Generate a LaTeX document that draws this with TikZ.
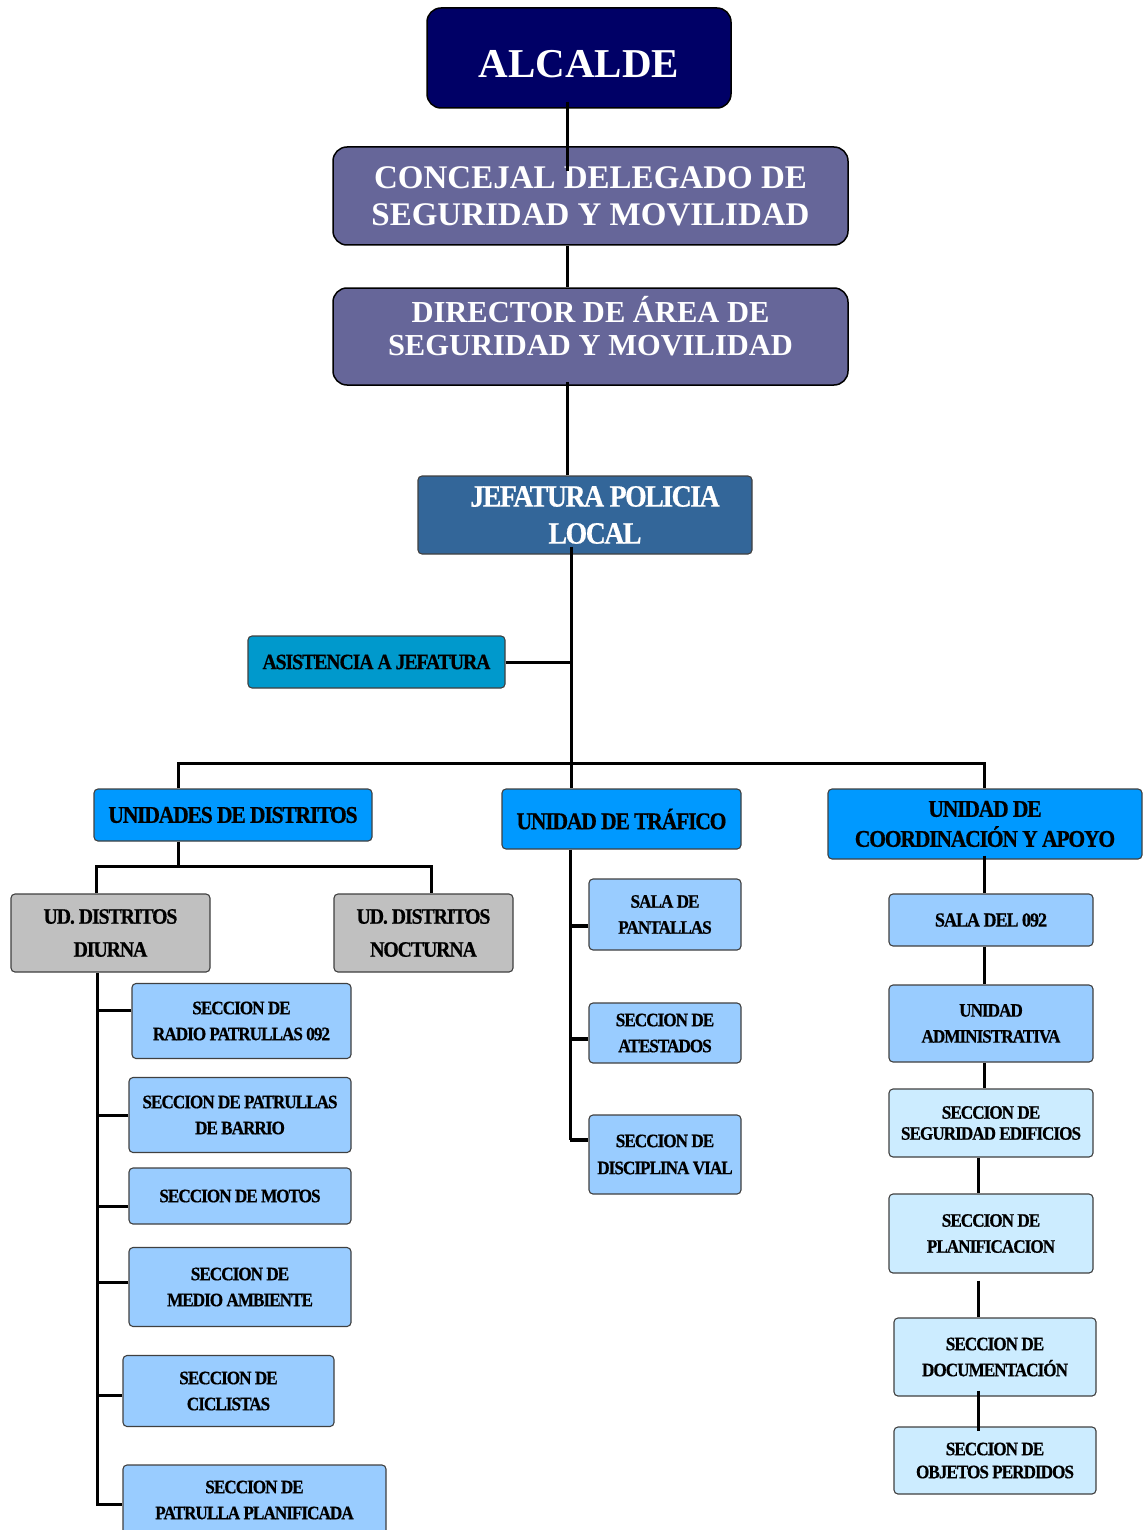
\documentclass[tikz,border=0pt]{standalone}
\usepackage{fontspec}
\setmainfont{Liberation Serif}
\newfontfamily\condfont[FakeStretch=0.9,LetterSpace=-5,FakeBold=0.6]{Liberation Serif}
\usetikzlibrary{shapes.misc}
\definecolor{cnavy}{HTML}{000066}
\definecolor{cpurple}{HTML}{666699}
\definecolor{cjef}{HTML}{336699}
\definecolor{casist}{HTML}{0099CC}
\definecolor{cunit}{HTML}{0099FF}
\definecolor{cgray}{HTML}{C0C0C0}
\definecolor{clight}{HTML}{99CCFF}
\definecolor{cpale}{HTML}{CCECFF}
\begin{document}
\begin{tikzpicture}[x=1pt,y=-1pt,
  topbox/.style={rectangle, rounded corners=14pt, draw=black, line width=1.5pt,
    text=white, align=center, inner sep=0pt},
  lowbox/.style={rectangle, rounded corners=4pt, draw=black!75, line width=1.1pt,
    text=black, align=center, inner sep=0pt},
  smallbox/.style={lowbox, fill=clight, font=\condfont\bfseries\fontsize{19}{26}\selectfont},
  palebox/.style={lowbox, fill=cpale, font=\condfont\bfseries\fontsize{19}{26}\selectfont},
  unitbox/.style={lowbox, fill=cunit, font=\condfont\bfseries\fontsize{24}{30}\selectfont},
  graybox/.style={lowbox, fill=cgray, font=\condfont\bfseries\fontsize{22}{33}\selectfont},
  conn/.style={draw=black, line width=3pt},
  thick conn/.style={draw=black, line width=4.5pt}
]
\useasboundingbox (0,0) rectangle (1144,1530);

% top chain
\node[topbox, fill=cnavy, minimum width=304pt, minimum height=100pt, text height=39pt,
  font=\bfseries\fontsize{41}{45}\selectfont] (alcalde) at (579,58) {ALCALDE};
\node[topbox, fill=cpurple, minimum width=515pt, minimum height=98pt,
  font=\bfseries\fontsize{33}{37}\selectfont] (concejal) at (590.5,196)
  {CONCEJAL DELEGADO DE\\SEGURIDAD Y MOVILIDAD};
\node[topbox, fill=cpurple, minimum width=515pt, minimum height=97pt, text depth=22pt,
  font=\bfseries\fontsize{30.5}{33}\selectfont] (director) at (590.5,336.5)
  {DIRECTOR DE ÁREA DE\\SEGURIDAD Y MOVILIDAD};
\node[lowbox, fill=cjef, text=white, minimum width=334pt, minimum height=78pt,
  font=\condfont\bfseries\fontsize{31}{37}\selectfont] (jefatura) at (585,515)
  {\hspace*{20pt}JEFATURA POLICIA\\\hspace*{20pt}LOCAL};
\node[lowbox, fill=casist, minimum width=257pt, minimum height=52pt,
  font=\condfont\bfseries\fontsize{22}{26}\selectfont] (asist) at (376.5,662)
  {ASISTENCIA A JEFATURA};

% units
\node[unitbox, minimum width=278pt, minimum height=52pt] (udist) at (233,815) {UNIDADES DE DISTRITOS};
\node[unitbox, minimum width=239pt, minimum height=60pt] (trafico) at (621.5,819) {UNIDAD DE TRÁFICO};
\node[unitbox, minimum width=314pt, minimum height=70pt] (coord) at (985,824) {UNIDAD DE\\COORDINACIÓN Y APOYO};

% districts
\node[graybox, minimum width=199pt, minimum height=78pt] (diurna) at (110.5,933) {UD. DISTRITOS\\DIURNA};
\node[graybox, minimum width=179pt, minimum height=78pt] (nocturna) at (423.5,933) {UD. DISTRITOS\\NOCTURNA};

\node[smallbox, minimum width=219pt, minimum height=75pt] (radio) at (241.5,1021) {SECCION DE\\RADIO PATRULLAS 092};
\node[smallbox, minimum width=222pt, minimum height=75pt] (barrio) at (240,1115) {SECCION DE PATRULLAS\\DE BARRIO};
\node[smallbox, minimum width=222pt, minimum height=56pt] (motos) at (240,1196) {SECCION DE MOTOS};
\node[smallbox, minimum width=222pt, minimum height=79pt] (medio) at (240,1287) {SECCION DE\\MEDIO AMBIENTE};
\node[smallbox, minimum width=211pt, minimum height=71pt] (ciclistas) at (228.5,1391) {SECCION DE\\CICLISTAS};
\node[smallbox, minimum width=263pt, minimum height=70pt] (planif) at (254.5,1500) {SECCION DE\\PATRULLA PLANIFICADA};

% traffic
\node[smallbox, minimum width=152pt, minimum height=71pt] (pantallas) at (665,914.5) {SALA DE\\PANTALLAS};
\node[smallbox, minimum width=152pt, minimum height=60pt] (atestados) at (665,1033) {SECCION DE\\ATESTADOS};
\node[smallbox, minimum width=152pt, minimum height=79pt,
  font=\condfont\bfseries\fontsize{19}{27}\selectfont] (disciplina) at (665,1154.5) {SECCION DE\\DISCIPLINA VIAL};

% coordination
\node[smallbox, minimum width=204pt, minimum height=52pt,
  font=\condfont\bfseries\fontsize{20}{26}\selectfont] (sala092) at (991,920) {SALA DEL 092};
\node[smallbox, minimum width=204pt, minimum height=77pt] (uadmin) at (991,1023.5) {UNIDAD\\ADMINISTRATIVA};
\node[palebox, minimum width=204pt, minimum height=68pt,
  font=\condfont\bfseries\fontsize{19}{21}\selectfont] (edificios) at (991,1123) {SECCION DE\\SEGURIDAD EDIFICIOS};
\node[palebox, minimum width=204pt, minimum height=79pt] (planific) at (991,1233.5) {SECCION DE\\PLANIFICACION};
\node[palebox, minimum width=202pt, minimum height=78pt] (docum) at (995,1357) {SECCION DE\\DOCUMENTACIÓN};
\node[palebox, minimum width=202pt, minimum height=67pt,
  font=\condfont\bfseries\fontsize{19}{23}\selectfont] (objetos) at (995,1460.5) {SECCION DE\\OBJETOS PERDIDOS};

% connectors
\coordinate (bar) at (571,763);
\draw[conn] ([xshift=-12pt,yshift=7pt]alcalde.south) -- ([xshift=-23.5pt,yshift=-25pt]concejal.north);
\draw[conn] ([xshift=-23.5pt]concejal.south) -- ([xshift=-23.5pt]director.north);
\draw[conn] ([xshift=-23.5pt,yshift=4pt]director.south) -- ([xshift=-18pt]jefatura.north);
\draw[conn] ([xshift=-14pt,yshift=8pt]jefatura.south) -- (bar);
\draw[conn] (asist.east) -- (asist.east -| bar);
\draw[conn] ([xshift=-55pt]udist.north) |- (bar) -| ([xshift=-1pt]coord.north);
\draw[conn] (bar) -- (trafico.north -| bar);

% districts
\draw[conn] ([xshift=-55pt]udist.south) -- ++(0,26);
\draw[conn] ([xshift=-14.5pt]diurna.north) -- ++(0,-27) -| ([xshift=7.5pt]nocturna.north);
\coordinate (dtop) at ([xshift=-13.5pt]diurna.south);
\draw[conn] (dtop) -- ([yshift=-4pt]planif.west -| dtop) -- ([yshift=-4pt]planif.west);
\draw[conn] ([yshift=11pt]radio.west) -- ([yshift=11pt]radio.west -| dtop);
\draw[conn] (barrio.west) -- (barrio.west -| dtop);
\draw[conn] ([yshift=-10pt]motos.west) -- ([yshift=-10pt]motos.west -| dtop);
\draw[conn] ([yshift=5pt]medio.west) -- ([yshift=5pt]medio.west -| dtop);
\draw[conn] ([yshift=-4pt]ciclistas.west) -- ([yshift=-4pt]ciclistas.west -| dtop);

% traffic
\coordinate (ttop) at ([xshift=-51.5pt]trafico.south);
\draw[conn] (ttop) -- ([yshift=14.5pt]disciplina.west -| ttop);
\draw[thick conn] ([yshift=14.5pt]disciplina.west -| ttop) -- ([yshift=14.5pt]disciplina.west);
\draw[thick conn] ([yshift=-11.5pt]pantallas.west) -- ([yshift=-11.5pt]pantallas.west -| ttop);
\draw[thick conn] ([yshift=-6pt]atestados.west) -- ([yshift=-6pt]atestados.west -| ttop);

% coordination chain
\draw[conn] ([xshift=-1pt,yshift=4pt]coord.south) -- ([xshift=-7pt]sala092.north);
\draw[conn] ([xshift=-7pt]sala092.south) -- ([xshift=-7pt]uadmin.north);
\draw[conn] ([xshift=-7pt]uadmin.south) -- ([xshift=-7pt]edificios.north);
\draw[conn] ([xshift=-13pt]edificios.south) -- ([xshift=-13pt]planific.north);
\draw[conn] ([xshift=-13pt,yshift=-7pt]planific.south) -- ([xshift=-17pt]docum.north);
\draw[conn] ([xshift=-17pt,yshift=6pt]docum.south) -- ([xshift=-17pt,yshift=-5pt]objetos.north);
\end{tikzpicture}
\end{document}
